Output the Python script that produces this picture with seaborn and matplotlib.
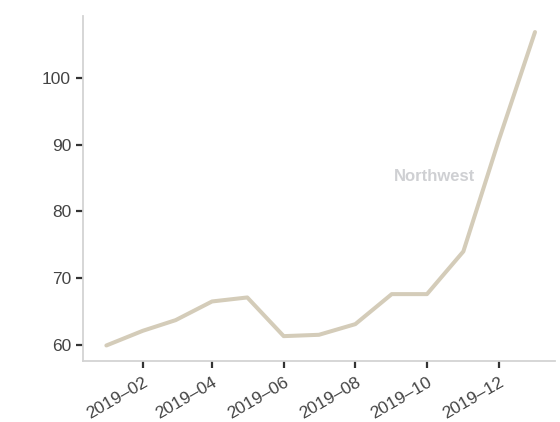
import pandas as pd
import matplotlib
matplotlib.use('Agg')
import matplotlib.pyplot as plt
import matplotlib.dates as mdates
import seaborn as sns

# valores mensais
meses = pd.date_range('2019-01-01', '2020-01-01', freq='MS')
valores = [59.9, 62.1, 63.7, 66.5, 67.1, 61.3, 61.5, 63.1, 67.6, 67.6, 74.0, 90.6, 106.9]
regiao = 'Northwest'

dados = pd.DataFrame({'mes': meses, 'valor': valores})

sns.set_style('ticks')
plt.rcParams['font.family'] = ['Liberation Sans', 'DejaVu Sans']

fig = plt.figure(figsize=(5.6, 4.22), dpi=100)
ax = fig.add_axes([0.148, 0.145, 0.843, 0.817])

sns.lineplot(data=dados, x='mes', y='valor', color='#d4ccb9', linewidth=2.9, ax=ax)

ax.set_xlim(pd.Timestamp('2018-12-12'), pd.Timestamp('2020-01-18'))
ax.set_ylim(57.6, 109.3)
ax.set_yticks([60, 70, 80, 90, 100])
ax.xaxis.set_major_locator(mdates.MonthLocator(bymonth=[2, 4, 6, 8, 10, 12]))
ax.xaxis.set_major_formatter(mdates.DateFormatter('%Y\u2013%m'))
ax.set_xlabel('')
ax.set_ylabel('')

sns.despine(ax=ax)
for lado in ['left', 'bottom']:
    ax.spines[lado].set_color('#d3d3d3')
    ax.spines[lado].set_linewidth(1.3)
ax.tick_params(axis='both', colors='#333333', labelcolor='#444444', labelsize=12.5,
               length=5, width=1.6)
ax.tick_params(axis='x', pad=5)
plt.setp(ax.get_xticklabels(), rotation=30, ha='right', rotation_mode='anchor')

ax.text(pd.Timestamp('2019-10-07'), 85.2, regiao, color='#cfd0d3', fontsize=12,
        fontweight='bold', ha='center', va='center')

fig.savefig('out.png', dpi=100)
